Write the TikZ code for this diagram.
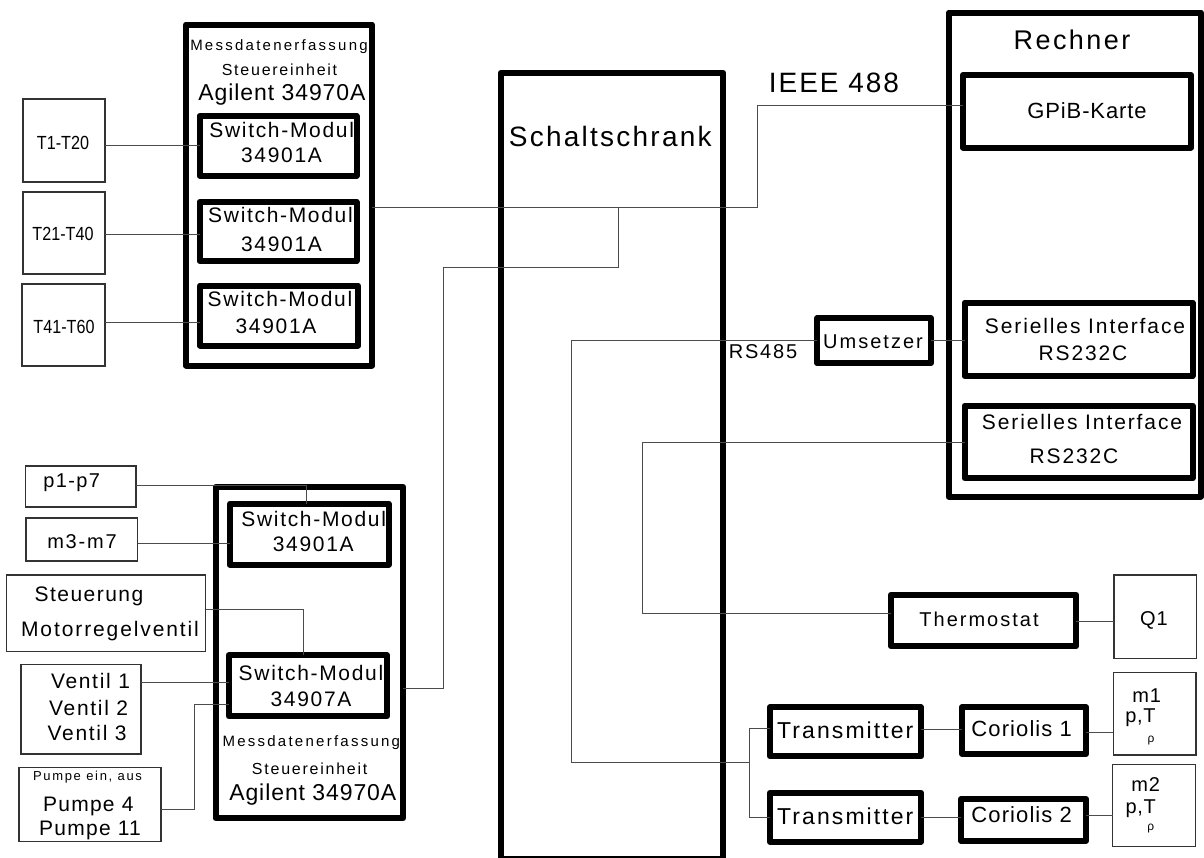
\documentclass[tikz,border=0pt]{standalone}
\usepackage{fontspec}
\setmainfont{Liberation Sans}
\newcommand\tf[2]{\fontsize{#1}{#1}\selectfont\addfontfeatures{LetterSpace=#2}}
\newcommand\tfn[1]{\fontsize{#1}{#1}\selectfont\addfontfeatures{FakeStretch=0.85}}
\tikzset{
  tbox/.style={draw, line width=6pt, line join=round, inner sep=0pt, outer sep=0pt},
  nbox/.style={draw=black!80, line width=1.2pt, inner sep=0pt, outer sep=0pt},
  wire/.style={draw=black!70, line width=1pt},
  lbl/.style={anchor=base, inner sep=0pt, text=black},
}
\begin{document}
\begin{tikzpicture}[x=1pt,y=-1pt]
\useasboundingbox (0,0) rectangle (1204,857);

% ---------- thick boxes ----------
\node[tbox, minimum width=186pt, minimum height=341pt] (modtop) at (279,195) {};
\node[tbox, minimum width=157pt, minimum height=59.5pt] (sm1) at (278,145.75) {};
\node[tbox, minimum width=157pt, minimum height=59pt] (sm2) at (278,231.5) {};
\node[tbox, minimum width=158pt, minimum height=60pt] (sm3) at (279,315.5) {};
\node[tbox, minimum width=222.6pt, minimum height=786.3pt] (schrank) at (612,465.85) {};
\node[tbox, minimum width=252.3pt, minimum height=484pt] (rechner) at (1074.85,254.5) {};
\node[tbox, minimum width=228pt, minimum height=72.5pt] (gpib) at (1077,111.25) {};
\node[tbox, minimum width=228pt, minimum height=73.3pt] (ser1) at (1078.5,339.35) {};
\node[tbox, minimum width=228pt, minimum height=72.8pt] (ser2) at (1078.5,441.9) {};
\node[tbox, minimum width=114pt, minimum height=44.7pt] (ums) at (874,340.65) {};
\node[tbox, minimum width=185.3pt, minimum height=51.6pt] (therm) at (983.65,620.5) {};
\node[tbox, minimum width=151pt, minimum height=49pt] (tr1) at (845.5,731.8) {};
\node[tbox, minimum width=151pt, minimum height=49pt] (tr2) at (845.5,817.2) {};
\node[tbox, minimum width=123.7pt, minimum height=46.7pt] (cor1) at (1024.15,730.65) {};
\node[tbox, minimum width=125pt, minimum height=41.7pt] (cor2) at (1023.5,819.85) {};
\node[tbox, minimum width=187.8pt, minimum height=331.3pt] (modbot) at (309.4,652.65) {};
\node[tbox, minimum width=159.1pt, minimum height=60.8pt] (sma) at (309.25,534.1) {};
\node[tbox, minimum width=158.3pt, minimum height=61pt] (smb) at (307.85,685.8) {};

% ---------- thin boxes ----------
\node[nbox, minimum width=82pt, minimum height=83pt] (t1) at (64,140.5) {};
\node[nbox, minimum width=82pt, minimum height=82pt] (t2) at (64,233) {};
\node[nbox, minimum width=83pt, minimum height=82pt] (t3) at (63.5,325) {};
\node[nbox, minimum width=110.3pt, minimum height=41pt] (p17) at (80.85,486.5) {};
\node[nbox, minimum width=111.7pt, minimum height=43pt] (m37) at (81.85,539.5) {};
\node[nbox, minimum width=199pt, minimum height=76.7pt] (steu) at (106.2,613.35) {};
\node[nbox, minimum width=120pt, minimum height=89.7pt] (vent) at (81,709.15) {};
\node[nbox, minimum width=142pt, minimum height=74.4pt] (pump) at (90,804.5) {};
\node[nbox, minimum width=82.7pt, minimum height=83.3pt] (q1) at (1155.35,616.65) {};
\node[nbox, minimum width=82.7pt, minimum height=82.3pt] (m1) at (1154.65,713.85) {};
\node[nbox, minimum width=82.6pt, minimum height=82.4pt] (m2) at (1154,805.5) {};

% ---------- connectors ----------
\coordinate (jn) at (618,207);
\coordinate (jt) at (749.5,762);
\draw[wire] (t1.east |- 0,145) -- (sm1.west |- 0,145);
\draw[wire] (t2.east |- 0,234) -- (sm2.west |- 0,234);
\draw[wire] (t3.east |- 0,322) -- (sm3.west |- 0,322);
\draw[wire] (modtop.east |- 0,207) -| (757,105) -- (gpib.west |- 0,105);
\draw[wire] (jn) -- (618,267) -| (443,688) -- (modbot.east |- 0,688);
\draw[wire] (ums.east |- 0,340) -- (ser1.west |- 0,340);
\draw[wire] (ums.west |- 0,340) -| (571,762) -- (jt);
\draw[wire] (tr1.west |- 0,728) -| (749.5,817) -- (tr2.west |- 0,817);
\draw[wire] (ser2.west |- 0,442) -| (642,613) -- (therm.west |- 0,613);
\draw[wire] (therm.east |- 0,621) -- (q1.west |- 0,621);
\draw[wire] (tr1.east |- 0,729) -- (cor1.west |- 0,729);
\draw[wire] (cor1.east |- 0,732) -- (m1.west |- 0,732);
\draw[wire] (tr2.east |- 0,817) -- (cor2.west |- 0,817);
\draw[wire] (cor2.east |- 0,815) -- (m2.west |- 0,815);
\draw[wire] (p17.east |- 0,485) -| (sma.north -| 306,0);
\draw[wire] (m37.east |- 0,543) -- (sma.west |- 0,543);
\draw[wire] (steu.east |- 0,609) -| (smb.north -| 303,0);
\draw[wire] (vent.east |- 0,682) -- (smb.west |- 0,682);
\draw[wire] (pump.east |- 0,809) -| (194,704) -- (smb.west |- 0,704);

% ---------- labels ----------
\node[lbl, font=\tf{15}{15}] (tm1) at (279,50) {Messdatenerfassung};
\node[lbl, font=\tf{16}{11}] (tm2) at (279.5,75) {Steuereinheit};
\node[lbl, font=\tf{23}{4}] (tm3) at (282,100) {Agilent 34970A};
\node[lbl, font=\tf{21}{8}] (s1a) at (281.7,137) {Switch-Modul};
\node[lbl, font=\tf{21}{8}] (s1b) at (281.5,162) {34901A};
\node[lbl, font=\tf{21}{8}] (s2a) at (280.5,222.7) {Switch-Modul};
\node[lbl, font=\tf{21}{8}] (s2b) at (281.5,251.7) {34901A};
\node[lbl, font=\tf{21}{8}] (s3a) at (280,306) {Switch-Modul};
\node[lbl, font=\tf{21}{8}] (s3b) at (276,333) {34901A};
\node[lbl, font=\tfn{19}] (lt1) at (63,149) {T1-T20};
\node[lbl, font=\tfn{19}] (lt2) at (63,240) {T21-T40};
\node[lbl, font=\tfn{19}] (lt3) at (64,333) {T41-T60};

\node[lbl, font=\tf{28}{8}] (lschrank) at (610.3,146.7) {Schaltschrank};
\node[lbl, font=\tf{27}{9}] (lrechner) at (1072,49) {Rechner};
\node[lbl, font=\tf{28}{7}] (lieee) at (834,92) {IEEE 488};
\node[lbl, font=\tf{22}{4}] (lgpib) at (1087,118) {GPiB-Karte};
\node[lbl, font=\tf{21}{9}] (ls1a) at (1085,333) {Serielles Interface};
\node[lbl, font=\tf{21}{9}] (ls1b) at (1083,360) {RS232C};
\node[lbl, font=\tf{21}{9}] (ls2a) at (1082,429) {Serielles Interface};
\node[lbl, font=\tf{21}{9}] (ls2b) at (1074,463) {RS232C};
\node[lbl, font=\tf{20}{10}] (lums) at (873,348) {Umsetzer};
\node[lbl, font=\tf{20}{9}] (lrs) at (763,358) {RS485};
\node[lbl, font=\tf{20}{10}] (ltherm) at (979,626) {Thermostat};
\node[lbl, font=\tf{20}{5}] (lq1) at (1154,625) {Q1};
\node[lbl, font=\tf{23}{9}] (ltr1) at (845.3,738.3) {Transmitter};
\node[lbl, font=\tf{23}{9}] (ltr2) at (845.3,824) {Transmitter};
\node[lbl, font=\tf{22}{5}] (lc1) at (1021.7,736.7) {Coriolis 1};
\node[lbl, font=\tf{22}{5}] (lc2) at (1021.7,822.7) {Coriolis 2};
\node[lbl, font=\tf{20}{5}] (lm1) at (1146.7,702) {m1};
\node[lbl, font=\tf{20}{3}] (lpt1) at (1140.5,722.7) {p,T};
\node[lbl, font=\tf{12}{0}] (lr1) at (1151,742) {ρ};
\node[lbl, font=\tf{20}{5}] (lm2) at (1145.7,791.7) {m2};
\node[lbl, font=\tf{20}{3}] (lpt2) at (1140.7,813.3) {p,T};
\node[lbl, font=\tf{12}{0}] (lr2) at (1150.7,830) {ρ};

\node[lbl, font=\tf{20}{7}] (lp17) at (71.7,487) {p1-p7};
\node[lbl, font=\tf{20}{9}] (lm37) at (82,548.3) {m3-m7};
\node[lbl, font=\tf{21}{7}] (lst1) at (89,601.7) {Steuerung};
\node[lbl, font=\tf{21}{9}] (lst2) at (110,636.7) {Motorregelventil};
\node[lbl, font=\tf{21}{8}] (lv1) at (90.5,688.3) {Ventil 1};
\node[lbl, font=\tf{21}{8}] (lv2) at (88.7,715) {Ventil 2};
\node[lbl, font=\tf{21}{8}] (lv3) at (87.2,740) {Ventil 3};
\node[lbl, font=\tf{13}{13}] (lpe) at (87.5,780.7) {Pumpe ein, aus};
\node[lbl, font=\tf{21}{6}] (lp4) at (88.3,811.7) {Pumpe 4};
\node[lbl, font=\tf{21}{6}] (lp11) at (90,835) {Pumpe 11};
\node[lbl, font=\tf{21}{8}] (sba) at (313.7,526.7) {Switch-Modul};
\node[lbl, font=\tf{21}{8}] (sbb) at (313.3,551) {34901A};
\node[lbl, font=\tf{21}{8}] (sbc) at (311,680) {Switch-Modul};
\node[lbl, font=\tf{21}{8}] (sbd) at (311,706) {34907A};
\node[lbl, font=\tf{15}{15}] (bm1) at (311.3,746.7) {Messdatenerfassung};
\node[lbl, font=\tf{16}{11}] (bm2) at (309.7,774) {Steuereinheit};
\node[lbl, font=\tf{23}{4}] (bm3) at (312.8,800) {Agilent 34970A};
\end{tikzpicture}
\end{document}
